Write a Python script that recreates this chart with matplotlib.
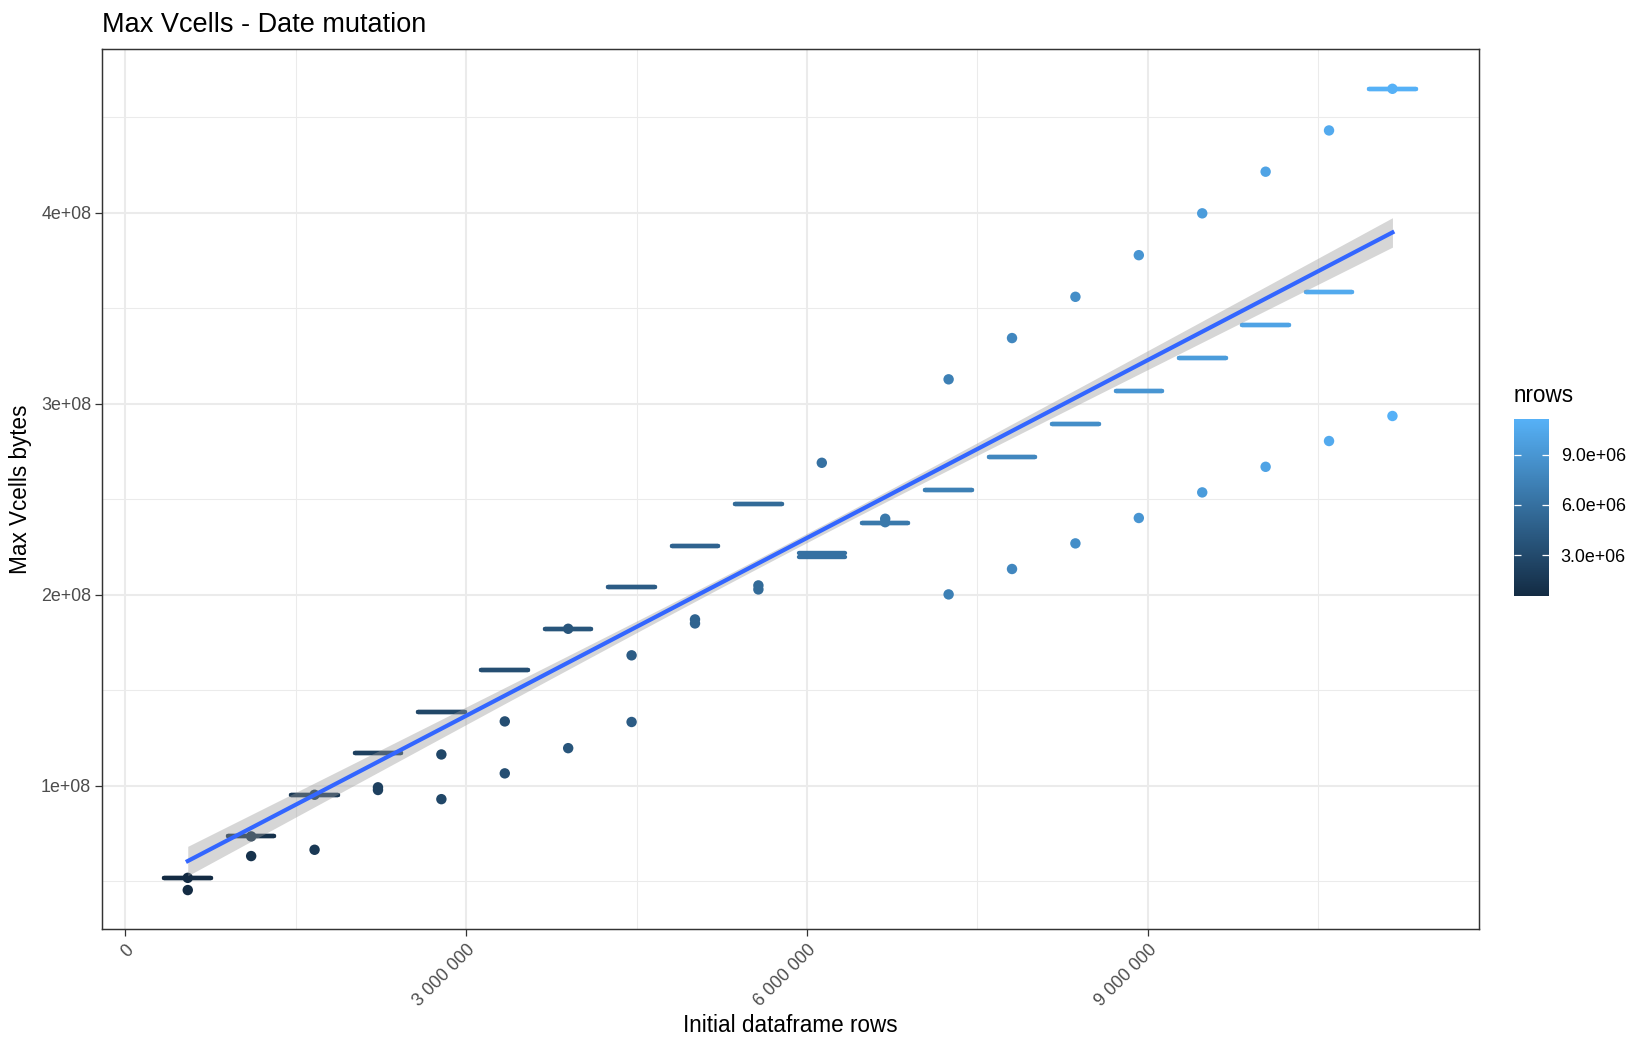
import matplotlib
matplotlib.use("Agg")
import matplotlib.pyplot as plt
from matplotlib.colors import LinearSegmentedColormap, Normalize
from matplotlib.cm import ScalarMappable
import numpy as np

plt.rcParams['font.family'] = ['Liberation Sans', 'DejaVu Sans']

# ----------------------------
# data
# ----------------------------
# initial dataframe rows for each run group
rows = [0.550e6, 1.108e6, 1.666e6, 2.224e6, 2.782e6, 3.340e6, 3.898e6, 4.456e6, 5.014e6, 5.572e6,
        6.130e6, 6.688e6, 7.246e6, 7.804e6, 8.362e6, 8.920e6, 9.478e6, 10.036e6, 10.594e6, 11.152e6]
# collapsed boxes (lower / upper hinge), bytes
box_lo = [0.518e8, 0.735e8, 0.953e8, 1.170e8, 1.387e8, 1.604e8, 1.822e8, 2.040e8, 2.257e8, 2.475e8,
          2.199e8, 2.374e8, 2.548e8, 2.721e8, 2.894e8, 3.066e8, 3.241e8, 3.412e8, 3.586e8, 4.649e8]
box_hi = [0.518e8, 0.735e8, 0.953e8, 1.170e8, 1.387e8, 1.604e8, 1.822e8, 2.040e8, 2.257e8, 2.475e8,
          2.217e8, 2.374e8, 2.548e8, 2.721e8, 2.894e8, 3.066e8, 3.241e8, 3.412e8, 3.586e8, 4.649e8]
# single points: group index and value
pt_group = [0, 0, 1, 1, 2, 2, 3, 3, 4, 4, 5, 5, 6, 6, 7, 7, 8, 8, 9, 9,
            10, 11, 11, 12, 12, 13, 13, 14, 14, 15, 15, 16, 16, 17, 17, 18, 18, 19, 19]
pt_vcells = [0.518e8, 0.454e8, 0.735e8, 0.632e8, 0.953e8, 0.665e8, 0.992e8, 0.978e8, 1.164e8, 0.930e8,
             1.337e8, 1.065e8, 1.822e8, 1.197e8, 1.683e8, 1.334e8, 1.871e8, 1.850e8, 2.049e8, 2.028e8,
             2.691e8, 2.398e8, 2.380e8, 3.128e8, 2.002e8, 3.344e8, 2.135e8, 3.560e8, 2.269e8,
             3.778e8, 2.402e8, 3.997e8, 2.536e8, 4.215e8, 2.670e8, 4.431e8, 2.805e8, 4.649e8, 2.936e8]
# linear fit (geom_smooth, method = lm): value at both ends and 95% band half widths
fit_y = [0.606e8, 3.897e8]
fit_se_end = 0.077e8
fit_se_mid = 0.024e8

x_ticks = [0, 3e6, 6e6, 9e6]
x_ticklabels = ["0", "3 000 000", "6 000 000", "9 000 000"]
y_ticks = [1e8, 2e8, 3e8, 4e8]
y_ticklabels = ["1e+08", "2e+08", "3e+08", "4e+08"]
cb_ticks = [3e6, 6e6, 9e6]
cb_ticklabels = ["3.0e+06", "6.0e+06", "9.0e+06"]

# ----------------------------
# figure
# ----------------------------
cmap = LinearSegmentedColormap.from_list("gg", ["#132B43", "#56B1F7"])
norm = Normalize(min(rows), max(rows))
rows_a = np.array(rows)

fig = plt.figure(figsize=(11, 7), dpi=150)
ax = fig.add_axes([0.0618, 0.1152, 0.8343, 0.8377])

# grid
for v in [0, 3e6, 6e6, 9e6]:
    ax.axvline(v, color="#EBEBEB", lw=1.0, zorder=0)
for v in [1.5e6, 4.5e6, 7.5e6, 10.5e6]:
    ax.axvline(v, color="#EBEBEB", lw=0.5, zorder=0)
for v in y_ticks:
    ax.axhline(v, color="#EBEBEB", lw=1.0, zorder=0)
for v in [0.5e8, 1.5e8, 2.5e8, 3.5e8, 4.5e8]:
    ax.axhline(v, color="#EBEBEB", lw=0.5, zorder=0)

# boxes
half_w = 0.205e6
box_cols = cmap(norm(rows_a))
ax.hlines(box_lo, rows_a - half_w, rows_a + half_w, colors=box_cols, lw=2.1, capstyle="round", zorder=2)
ax.hlines(box_hi, rows_a - half_w, rows_a + half_w, colors=box_cols, lw=2.1, capstyle="round", zorder=2)

# points
pt_rows = rows_a[pt_group]
ax.scatter(pt_rows, pt_vcells, c=pt_rows, cmap=cmap, norm=norm, s=25, edgecolors="none", zorder=3)

# smooth + band
xs = np.linspace(rows[0], rows[-1], 200)
ys = fit_y[0] + (fit_y[1] - fit_y[0]) * (xs - rows[0]) / (rows[-1] - rows[0])
xm = (rows[0] + rows[-1]) / 2
u = (xs - xm) / (rows[-1] - xm)
half = np.sqrt(fit_se_mid ** 2 + (fit_se_end ** 2 - fit_se_mid ** 2) * u ** 2)
ax.fill_between(xs, ys - half, ys + half, color="#999999", alpha=0.4, lw=0, zorder=4)
ax.plot(xs, ys, color="#3366FF", lw=2.0, zorder=5)

ax.set_xlim(-0.205e6, 11.91e6)
ax.set_ylim(0.25e8, 4.855e8)
ax.set_xticks(x_ticks)
ax.set_xticklabels(x_ticklabels, rotation=45, ha="right", va="top", rotation_mode="anchor")
ax.set_yticks(y_ticks)
ax.set_yticklabels(y_ticklabels)
ax.tick_params(axis="both", length=3.4, width=0.6, color="#333333", labelcolor="#4D4D4D", labelsize=8.6)
ax.tick_params(axis="x", pad=2.5)
ax.tick_params(axis="y", pad=1.8)
for s in ax.spines.values():
    s.set_color("#333333")
    s.set_linewidth(0.7)

fig.text(0.0618, 1 - 31.7 / 1050, "Max Vcells - Date mutation", fontsize=13, ha="left", va="baseline")
fig.text(790 / 1650, 1 - 1032 / 1050, "Initial dataframe rows", fontsize=10.8, ha="center", va="baseline")
fig.text(21 / 1650, 1 - 489 / 1050, "Max Vcells bytes", fontsize=10.8, rotation=90, ha="center", va="center")

# colour bar
cax = fig.add_axes([0.9176, 0.4324, 0.0212, 0.1686])
cb = fig.colorbar(ScalarMappable(norm=norm, cmap=cmap), cax=cax)
cb.outline.set_visible(False)
cb.set_ticks(cb_ticks)
cb.set_ticklabels(cb_ticklabels)
cax.tick_params(axis="y", direction="in", left=True, right=True, color="white", length=3.4, width=0.6,
                labelsize=8.6, labelcolor="black", pad=5.6)
fig.text(1514 / 1650, 1 - 395 / 1050, "nrows", fontsize=10.8, ha="left", va="center")

fig.savefig("out.png", dpi=150)
